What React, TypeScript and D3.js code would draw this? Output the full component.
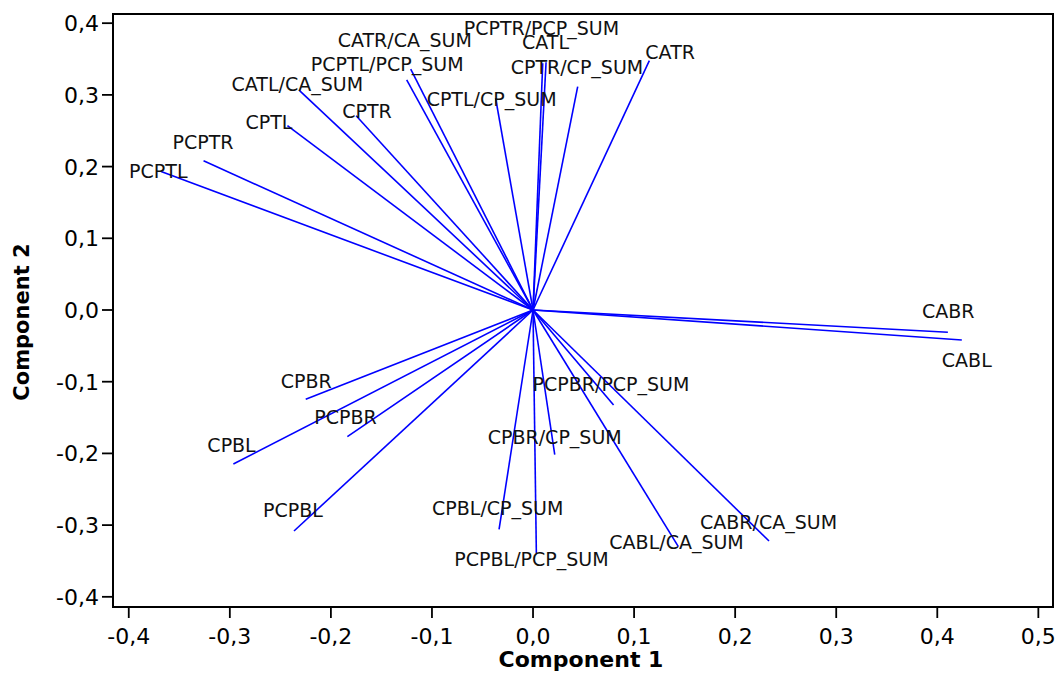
import React from "react";
import * as d3 from "d3";

// Component loadings (Component 1, Component 2) for each variable
const variables = [
  "PCPTL", "PCPTR", "CPTL", "CATL/CA_SUM", "CPTR", "PCPTL/PCP_SUM", "CATR/CA_SUM",
  "CPTL/CP_SUM", "PCPTR/PCP_SUM", "CATL", "CPTR/CP_SUM", "CATR", "CABR", "CABL",
  "PCPBR/PCP_SUM", "CPBR/CP_SUM", "CABL/CA_SUM", "CABR/CA_SUM", "PCPBL/PCP_SUM",
  "CPBL/CP_SUM", "PCPBL", "PCPBR", "CPBL", "CPBR",
];
const component1 = [
  -0.368, -0.326, -0.243, -0.231, -0.175, -0.121, -0.125,
  -0.037, 0.0096, 0.0129, 0.0442, 0.1151, 0.4105, 0.4243,
  0.0797, 0.0215, 0.1438, 0.2335, 0.0033,
  -0.0336, -0.2365, -0.1837, -0.2965, -0.2249,
];
const component2 = [
  0.193, 0.208, 0.257, 0.306, 0.271, 0.336, 0.321,
  0.2953, 0.3441, 0.3455, 0.3114, 0.3477, -0.0311, -0.0418,
  -0.1325, -0.2018, -0.3301, -0.3222, -0.3393,
  -0.3059, -0.3082, -0.1767, -0.2148, -0.1245,
];

// Label placement relative to each arrow tip (text start, baseline), in px
const labelOffsets: [number, number][] = [
  [-32, 6], [-31, -12], [-42, 3], [-68, 0], [-14, 2], [-100, 2], [-69, -33],
  [-69, 8], [-79, -28], [-24, -13], [-67, -13], [-4, -2], [-26, -14], [-20, 27],
  [-81, -14], [-67, -11], [-69, 2], [-69, -12], [-82, 13],
  [-67, -14], [-31, -14], [-33, -13], [-26, -12], [-25, -11],
];

const xTicks = [-0.4, -0.3, -0.2, -0.1, 0.0, 0.1, 0.2, 0.3, 0.4, 0.5];
const yTicks = [-0.4, -0.3, -0.2, -0.1, 0.0, 0.1, 0.2, 0.3, 0.4];

const W = 1058;
const H = 682;
const frame = { left: 113, right: 1053, top: 14, bottom: 607 };

const locale = d3.formatLocale({
  decimal: ",",
  thousands: ".",
  grouping: [3],
  currency: ["", ""],
  minus: "-",
});
const fmt = locale.format(".1f");

export default function App() {
  const x = d3.scaleLinear().domain([-0.4156, 0.5145]).range([frame.left, frame.right]);
  const y = d3.scaleLinear().domain([-0.4142, 0.4128]).range([frame.bottom, frame.top]);
  const font = "'DejaVu Sans', Verdana, sans-serif";

  return (
    <svg
      width={W}
      height={H}
      style={{ position: "absolute", left: 0, top: 0, background: "#fff" }}
      fontFamily={font}
    >
      <rect x={0} y={0} width={W} height={H} fill="#fff" />

      {/* loading vectors */}
      <g stroke="#0000ff" strokeWidth={1.6} fill="none">
        {variables.map((v, i) => (
          <line key={v} x1={x(0)} y1={y(0)} x2={x(component1[i])} y2={y(component2[i])} />
        ))}
      </g>

      {/* variable labels */}
      <g fontSize={19} fill="#111">
        {variables.map((v, i) => (
          <text
            key={v}
            x={x(component1[i]) + labelOffsets[i][0]}
            y={y(component2[i]) + labelOffsets[i][1]}
          >
            {v}
          </text>
        ))}
      </g>

      {/* plot frame */}
      <rect
        x={frame.left}
        y={frame.top}
        width={frame.right - frame.left}
        height={frame.bottom - frame.top}
        fill="none"
        stroke="#000"
        strokeWidth={2}
      />

      {/* x axis */}
      <g>
        {xTicks.map((t) => (
          <g key={t}>
            <line x1={x(t)} x2={x(t)} y1={frame.bottom} y2={frame.bottom + 11} stroke="#000" strokeWidth={1.8} />
            <text x={x(t)} y={644} textAnchor="middle" fontSize={22} fill="#000">
              {fmt(t)}
            </text>
          </g>
        ))}
      </g>

      {/* y axis */}
      <g>
        {yTicks.map((t) => (
          <g key={t}>
            <line x1={frame.left - 11} x2={frame.left} y1={y(t)} y2={y(t)} stroke="#000" strokeWidth={1.8} />
            <text x={99} y={y(t)} dy="0.36em" textAnchor="end" fontSize={22} fill="#000">
              {fmt(t)}
            </text>
          </g>
        ))}
      </g>

      {/* axis titles */}
      <text x={581} y={667} textAnchor="middle" fontSize={22} fontWeight="bold" fill="#000">
        Component 1
      </text>
      <text
        transform="translate(29,322) rotate(-90)"
        textAnchor="middle"
        fontSize={21}
        fontWeight="bold"
        fill="#000"
      >
        Component 2
      </text>
    </svg>
  );
}
